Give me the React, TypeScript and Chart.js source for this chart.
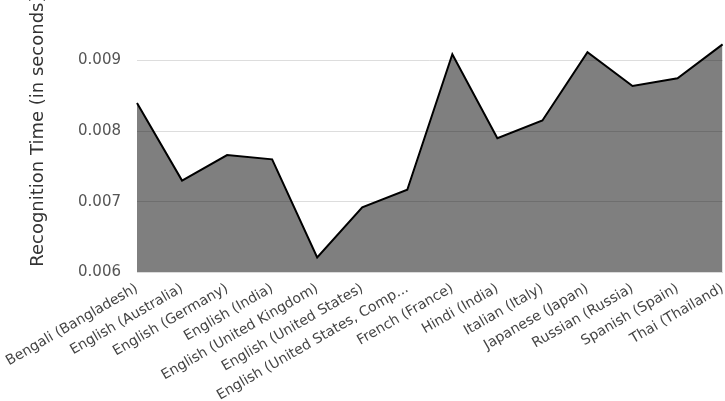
import React, { useEffect, useRef } from "react";
import { Chart, registerables } from "chart.js";

Chart.register(...registerables);

const categories: string[] = [
  "Bengali (Bangladesh)",
  "English (Australia)",
  "English (Germany)",
  "English (India)",
  "English (United Kingdom)",
  "English (United States)",
  "English (United States, Comp...",
  "French (France)",
  "Hindi (India)",
  "Italian (Italy)",
  "Japanese (Japan)",
  "Russian (Russia)",
  "Spanish (Spain)",
  "Thai (Thailand)",
];

const recognitionTime: number[] = [
  0.0084, 0.0073, 0.00766, 0.0076, 0.00621, 0.00692, 0.00717, 0.00909,
  0.0079, 0.00815, 0.00912, 0.00864, 0.00875, 0.00923,
];

const yTitle = "Recognition Time (in seconds)";

const W = 731;
const H = 439;

export default function App() {
  const ref = useRef<HTMLCanvasElement | null>(null);
  useEffect(() => {
    if (!ref.current) return;
    const chart = new Chart(ref.current, {
      type: "line",
      data: {
        labels: categories,
        datasets: [
          {
            data: recognitionTime,
            borderColor: "#000000",
            borderWidth: 2,
            backgroundColor: "rgba(0,0,0,0.5)",
            fill: "start",
            pointRadius: 0,
            tension: 0,
          },
        ],
      },
      options: {
        animation: false,
        responsive: false,
        maintainAspectRatio: false,
        layout: { padding: { left: 0, right: 0, top: 0, bottom: 0 } },
        plugins: { legend: { display: false }, tooltip: { enabled: false } },
        scales: {
          x: {
            offset: false,
            grid: { display: false },
            border: { display: true, color: "#dddddd" },
            ticks: {
              autoSkip: false,
              maxRotation: 30,
              minRotation: 30,
              color: "#444444",
              font: { family: "DejaVu Sans", size: 14 },
              padding: 0,
            },
          },
          y: {
            min: 0.006,
            max: 0.01,
            grid: { color: "#dddddd", drawTicks: false, lineWidth: 1 },
            border: { display: false },
            ticks: {
              stepSize: 0.001,
              color: "#555555",
              padding: 16,
              font: { family: "DejaVu Sans", size: 15 },
              callback: (v: any) => Number(v).toFixed(3),
            },
            title: {
              display: true,
              text: yTitle,
              color: "#333333",
              font: { family: "DejaVu Sans", size: 18 },
              padding: { top: 28, bottom: 10 },
            },
            afterFit: (scale: any) => {
              scale.width = 137;
            },
          },
        },
      },
    });
    return () => chart.destroy();
  }, []);
  return (
    <div style={{ position: "fixed", left: 0, top: -35, width: W, height: H }}>
      <canvas ref={ref} width={W} height={H} style={{ width: W, height: H }} />
    </div>
  );
}
